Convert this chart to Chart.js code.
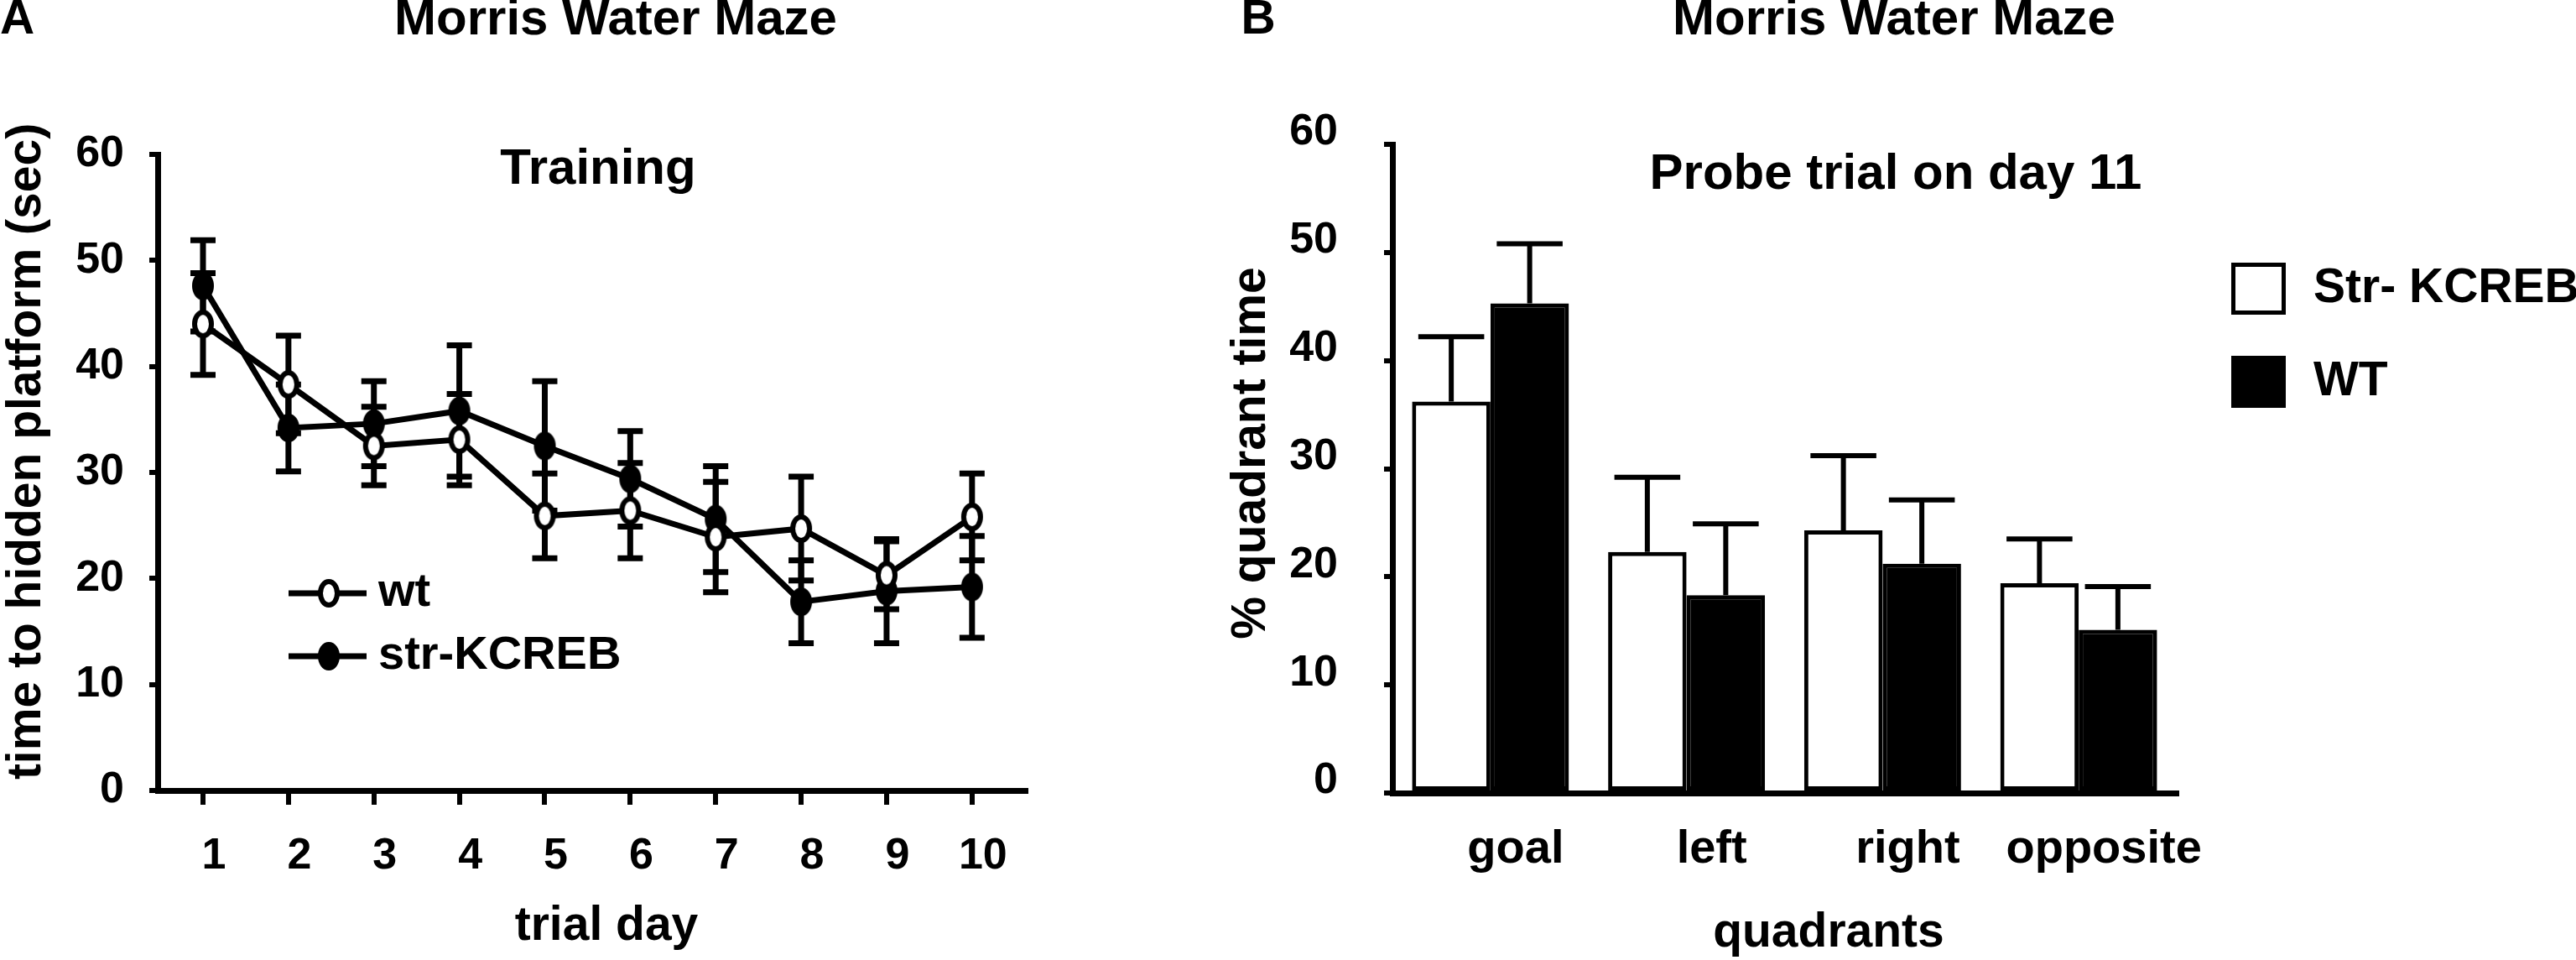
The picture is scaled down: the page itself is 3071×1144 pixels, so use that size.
<!DOCTYPE html>
<html>
<head>
<meta charset="utf-8">
<title>Morris Water Maze</title>
<script src="https://cdn.jsdelivr.net/npm/chart.js@4.4.1/dist/chart.umd.min.js"></script>
<style>
  html, body { margin: 0; padding: 0; background: #fff; }
  body { width: 3071px; height: 1144px; position: relative; overflow: hidden; }
  canvas { position: absolute; top: 0; }
  #training { left: 0; }
  #probe { left: 1450px; }
</style>
</head>
<body>
<canvas id="training" width="1450" height="1144"></canvas>
<canvas id="probe" width="1621" height="1144"></canvas>
<script>
// A: training, time to hidden platform per trial day (mean, sem)
const trialDays = [1, 2, 3, 4, 5, 6, 7, 8, 9, 10];
const wtLatency = [44.0, 38.3, 32.5, 33.1, 25.9, 26.4, 23.9, 24.7, 20.3, 25.8];
const wtSem = [4.8, 4.6, 3.7, 4.3, 4.0, 4.5, 5.2, 4.9, 3.2, 4.1];
const strLatency = [47.6, 34.2, 34.6, 35.8, 32.5, 29.4, 25.6, 17.8, 18.8, 19.2];
const strSem = [4.3, 4.1, 4.0, 6.2, 6.1, 4.5, 5.0, 3.9, 4.9, 4.8];
const latencyTicks = [0, 10, 20, 30, 40, 50, 60];

// B: probe trial on day 11, % time per quadrant (mean, sem)
const quadrants = ["goal", "left", "right", "opposite"];
const strQuadTime = [36.2, 22.3, 24.3, 19.4];
const strQuadSem = [6.0, 6.9, 6.9, 4.1];
const wtQuadTime = [45.3, 18.3, 21.2, 15.1];
const wtQuadSem = [5.5, 6.6, 5.9, 4.0];
const quadTicks = [0, 10, 20, 30, 40, 50, 60];

const ink = "#000";
const family = "'Liberation Sans', Arial, Helvetica, sans-serif";
const bold = (size) => ({ family: family, size: size, weight: "bold" });

// tall ellipse markers like in the original figure
function ellipseMarker(filled) {
  const c = document.createElement("canvas");
  c.width = 30; c.height = 38;
  const g = c.getContext("2d");
  g.beginPath();
  g.ellipse(15, 19, 10, 14, 0, 0, Math.PI * 2);
  g.fillStyle = filled ? ink : "#fff";
  g.fill();
  g.lineWidth = 6;
  g.strokeStyle = ink;
  g.stroke();
  return c;
}
const openMarker = ellipseMarker(false);
const filledMarker = ellipseMarker(true);

// free text: panel letters, titles, axis titles
const panelText = {
  id: "panelText",
  afterDraw(chart, args, opts) {
    const ctx = chart.ctx;
    opts.items.forEach(t => {
      ctx.save();
      ctx.fillStyle = ink;
      ctx.textBaseline = "middle";
      ctx.font = `bold ${t.size}px ${family}`;
      ctx.textAlign = t.align || "center";
      ctx.translate(t.x, t.y);
      if (t.vertical) ctx.rotate(-Math.PI / 2);
      ctx.fillText(t.text, 0, 0);
      ctx.restore();
    });
  }
};

// sem bars for the line chart, both directions
const latencyErrorBars = {
  id: "latencyErrorBars",
  beforeDatasetsDraw(chart) {
    const { ctx, scales: { x, y } } = chart;
    const sems = [wtSem, strSem];
    ctx.save();
    ctx.strokeStyle = ink;
    ctx.lineWidth = 7;
    chart.data.datasets.forEach((ds, di) => {
      ds.data.forEach((p, i) => {
        const px = x.getPixelForValue(p.x);
        const top = y.getPixelForValue(p.y + sems[di][i]);
        const bot = y.getPixelForValue(p.y - sems[di][i]);
        ctx.beginPath();
        ctx.moveTo(px, top); ctx.lineTo(px, bot);
        ctx.moveTo(px - 15, top); ctx.lineTo(px + 15, top);
        ctx.moveTo(px - 15, bot); ctx.lineTo(px + 15, bot);
        ctx.stroke();
      });
    });
    ctx.restore();
  }
};

// legend drawn inside plot A
const latencyLegend = {
  id: "latencyLegend",
  afterDatasetsDraw(chart, args, opts) {
    const ctx = chart.ctx;
    ctx.save();
    chart.data.datasets.forEach((ds, i) => {
      const yy = opts.rows[i];
      ctx.strokeStyle = ink;
      ctx.lineWidth = 7;
      ctx.beginPath();
      ctx.moveTo(opts.lineFrom, yy);
      ctx.lineTo(opts.lineTo, yy);
      ctx.stroke();
      const m = ds.pointStyle;
      ctx.drawImage(m, opts.marker - m.width / 2, yy - m.height / 2);
      ctx.fillStyle = ink;
      ctx.font = `bold 56px ${family}`;
      ctx.textAlign = "left";
      ctx.textBaseline = "middle";
      ctx.fillText(ds.label, opts.textX, yy);
    });
    ctx.restore();
  }
};

// upward sem bars on the bar chart
const quadErrorBars = {
  id: "quadErrorBars",
  afterDatasetsDraw(chart) {
    const { ctx, scales: { y } } = chart;
    const sems = [strQuadSem, wtQuadSem];
    ctx.save();
    ctx.strokeStyle = ink;
    ctx.lineWidth = 6;
    chart.data.datasets.forEach((ds, di) => {
      chart.getDatasetMeta(di).data.forEach((bar, i) => {
        const top = y.getPixelForValue(ds.data[i] + sems[di][i]);
        const half = bar.width * 0.42;
        ctx.beginPath();
        ctx.moveTo(bar.x, bar.y); ctx.lineTo(bar.x, top);
        ctx.moveTo(bar.x - half, top); ctx.lineTo(bar.x + half, top);
        ctx.stroke();
      });
    });
    ctx.restore();
  }
};

// boxed legend to the right of plot B
const quadLegend = {
  id: "quadLegend",
  afterDraw(chart, args, opts) {
    const ctx = chart.ctx;
    ctx.save();
    chart.data.datasets.forEach((ds, i) => {
      const top = opts.rows[i];
      ctx.fillStyle = ds.backgroundColor;
      ctx.fillRect(opts.x, top, opts.w, opts.h);
      ctx.lineWidth = 5;
      ctx.strokeStyle = ink;
      ctx.strokeRect(opts.x + 2.5, top + 2.5, opts.w - 5, opts.h - 5);
      ctx.fillStyle = ink;
      ctx.font = `bold 57px ${family}`;
      ctx.textAlign = "left";
      ctx.textBaseline = "middle";
      ctx.fillText(ds.label, opts.textX, top + opts.h / 2);
    });
    ctx.restore();
  }
};

const axisGrid = (tick) => ({ drawOnChartArea: false, drawTicks: tick > 0, tickLength: tick, color: ink, lineWidth: 6 });
const axisBorder = { display: true, color: ink, width: 7 };

new Chart(document.getElementById("training"), {
  type: "line",
  data: {
    datasets: [
      {
        label: "wt",
        data: trialDays.map((d, i) => ({ x: d, y: wtLatency[i] })),
        borderColor: ink, borderWidth: 7, tension: 0,
        pointStyle: openMarker, pointRadius: 15
      },
      {
        label: "str-KCREB",
        data: trialDays.map((d, i) => ({ x: d, y: strLatency[i] })),
        borderColor: ink, borderWidth: 7, tension: 0,
        pointStyle: filledMarker, pointRadius: 15
      }
    ]
  },
  options: {
    responsive: false,
    devicePixelRatio: 1,
    animation: false,
    layout: { padding: { top: 184, right: 227, bottom: 0, left: 0 } },
    scales: {
      x: {
        type: "linear", min: 0.47, max: 10.63,
        afterBuildTicks: (s) => { s.ticks = trialDays.map(v => ({ value: v })); },
        afterFit: (s) => { s.height = 202; },
        grid: axisGrid(17),
        border: axisBorder,
        ticks: { color: ink, font: bold(52), padding: 30, labelOffset: 13, maxRotation: 0, autoSkip: false }
      },
      y: {
        min: 0, max: 60,
        afterBuildTicks: (s) => { s.ticks = latencyTicks.map(v => ({ value: v })); },
        afterFit: (s) => { s.width = 188; },
        grid: axisGrid(10),
        border: axisBorder,
        ticks: { color: ink, font: bold(52), padding: 30 }
      }
    },
    plugins: {
      legend: { display: false },
      tooltip: { enabled: false },
      panelText: {
        items: [
          { text: "A", x: 0, y: 24, size: 57, align: "left" },
          { text: "Morris Water Maze", x: 734, y: 24, size: 60 },
          { text: "Training", x: 713, y: 202, size: 60 },
          { text: "trial day", x: 723, y: 1104, size: 57 },
          { text: "time to hidden platform (sec)", x: 32, y: 538, size: 57, vertical: true }
        ]
      },
      latencyLegend: { rows: [707, 782], lineFrom: 344, lineTo: 437, marker: 392, textX: 451 }
    }
  },
  plugins: [latencyErrorBars, latencyLegend, panelText]
});

new Chart(document.getElementById("probe"), {
  type: "bar",
  data: {
    labels: quadrants,
    datasets: [
      { label: "Str- KCREB", data: strQuadTime, backgroundColor: "#fff", borderColor: ink, borderWidth: 5, borderSkipped: false },
      { label: "WT", data: wtQuadTime, backgroundColor: ink, borderColor: ink, borderWidth: 5, borderSkipped: false }
    ]
  },
  options: {
    responsive: false,
    devicePixelRatio: 1,
    animation: false,
    categoryPercentage: 0.8,
    barPercentage: 1,
    layout: { padding: { top: 172, right: 476, bottom: 0, left: 0 } },
    scales: {
      x: {
        afterFit: (s) => { s.height = 199; },
        grid: axisGrid(0),
        border: axisBorder,
        ticks: { color: ink, font: bold(56), padding: 34, labelOffset: 30, maxRotation: 0, minRotation: 0, autoSkip: false }
      },
      y: {
        min: 0, max: 60,
        afterBuildTicks: (s) => { s.ticks = quadTicks.map(v => ({ value: v })); },
        afterFit: (s) => { s.width = 210; },
        grid: axisGrid(10),
        border: axisBorder,
        ticks: { color: ink, font: bold(52), padding: 55, labelOffset: -14 }
      }
    },
    plugins: {
      legend: { display: false },
      tooltip: { enabled: false },
      panelText: {
        items: [
          { text: "B", x: 50, y: 24, size: 57 },
          { text: "Morris Water Maze", x: 808, y: 24, size: 60 },
          { text: "Probe trial on day 11", x: 810, y: 208, size: 60 },
          { text: "quadrants", x: 730, y: 1112, size: 57 },
          { text: "% quadrant time", x: 42, y: 540, size: 57, vertical: true }
        ]
      },
      quadLegend: { x: 1210, w: 65, h: 62, rows: [313, 424], textX: 1308 }
    }
  },
  plugins: [quadErrorBars, quadLegend, panelText]
});
</script>
</body>
</html>
